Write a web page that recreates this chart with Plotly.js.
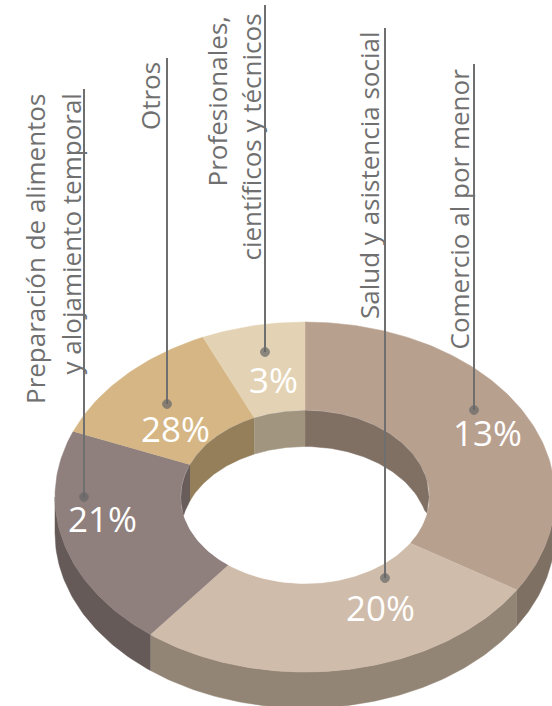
<!DOCTYPE html>
<html><head><meta charset="utf-8">
<script src="https://cdn.plot.ly/plotly-3.0.1.min.js"></script>
<style>html,body{margin:0;padding:0;background:#fff}#c{width:552px;height:706px}</style>
</head><body><div id="c"></div>
<script>
// Data
const categories = ['Comercio al por menor','Salud y asistencia social','Preparación de alimentos y alojamiento temporal','Otros','Profesionales, científicos y técnicos'];
const percentLabels = ['13%','20%','21%','28%','3%'];
const drawnShares = [33.9, 26.7, 20.5, 12.2, 6.7]; // share of the ring as drawn, %
const topColors = ['#b8a08f','#d0bcaa','#8f7f7d','#d5b684','#e3d3b4'];
const outerWallColors = ['#7f7064','#938575','#655a58','#655a58','#655a58'];
const innerWallColors = ['#806f63','#938575','#685d5a','#957f5b','#a1957f'];

// Geometry
const cx=305, cy=497, rx=250, ry=175, irx=124, iry=86.5, depth=36;
const rad=d=>d*Math.PI/180;
const px=(r,t)=>cx+r*Math.sin(rad(t));
const py=(r,t,dy=0)=>cy+dy-r*Math.cos(rad(t));
const steps=(a,b)=>{const n=Math.max(2,Math.ceil(Math.abs(b-a)));const o=[];for(let i=0;i<=n;i++)o.push(a+(b-a)*i/n);return o;};

let cum=0; const ranges=drawnShares.map(s=>{const a=cum*3.6;cum+=s;return [a,cum*3.6];});
const poly=(x,y,c)=>({type:'scatter',mode:'lines',x,y,fill:'toself',fillcolor:c,line:{color:c,width:0.5},hoverinfo:'skip',showlegend:false});
const traces=[];

// Outer wall (front half)
ranges.forEach(([a,b],i)=>{
  const lo=Math.max(a,90), hi=Math.min(b,270);
  if(hi<=lo) return;
  const ts=steps(lo,hi), rev=[...ts].reverse();
  traces.push(poly([...ts.map(t=>px(rx,t)),...rev.map(t=>px(rx,t))],
                   [...ts.map(t=>py(ry,t)),...rev.map(t=>py(ry,t,depth))],outerWallColors[i]));
});
// Top faces
ranges.forEach(([a,b],i)=>{
  const ts=steps(a,b), rev=[...ts].reverse();
  traces.push(poly([...ts.map(t=>px(rx,t)),...rev.map(t=>px(irx,t))],
                   [...ts.map(t=>py(ry,t)),...rev.map(t=>py(iry,t))],topColors[i]));
});
// Hole
const full=steps(0,360);
traces.push(poly(full.map(t=>px(irx,t)),full.map(t=>py(iry,t)),'#ffffff'));
// Inner wall (back half), clipped to the hole
ranges.forEach(([a,b],i)=>{
  let sets=[];
  if(a<90) sets.push([a,Math.min(b,90)]);
  if(b>270) sets.push([Math.max(a,270),b]);
  sets.forEach(([l,h])=>{
    const x1=px(irx,l), x2=px(irx,h), n=60, xs=[], up=[], lowY=[];
    for(let k=0;k<=n;k++){
      const x=x1+(x2-x1)*k/n, u=(x-cx)/irx, s=Math.sqrt(Math.max(0,1-u*u));
      xs.push(x); up.push(cy-iry*s); lowY.push(Math.min(cy+depth-iry*s,cy+iry*s));
    }
    traces.push(poly([...xs,...[...xs].reverse()],[...up,...[...lowY].reverse()],innerWallColors[i]));
  });
});
// Leader lines
const leaderX=[474,385,84,167,265];
const leaderTop=[64,28,89,58,5];
const leaderEnd=[410,578,497,404,352];
categories.forEach((c,i)=>{
  traces.push({type:'scatter',mode:'lines+markers',x:[leaderX[i],leaderX[i]],y:[leaderTop[i],leaderEnd[i]],
    line:{color:'#6f6f6f',width:2},marker:{color:'#666666',size:[0,9]},hoverinfo:'skip',showlegend:false});
});

// Text
const sideFont={family:'Open Sans',size:26,color:'#707070'};
const sideLines=[
  {t:'Comercio al por menor',x:458,y:67},
  {t:'Salud y asistencia social',x:369,y:29},
  {t:'Preparación de alimentos',x:35,y:92},
  {t:'y alojamiento temporal',x:70,y:92},
  {t:'Otros',x:150,y:60},
  {t:'Profesionales,',x:216,y:14},
  {t:'científicos y técnicos',x:250,y:12}
];
const pctX=[487,380,102,175,273], pctY=[432,607,518,428,379];
const annotations=[
  ...sideLines.map(l=>({x:l.x,y:l.y,xref:'x',yref:'y',text:l.t,showarrow:false,textangle:-90,xanchor:'center',yanchor:'top',font:sideFont})),
  ...percentLabels.map((p,i)=>({x:pctX[i],y:pctY[i],xref:'x',yref:'y',text:p,showarrow:false,xanchor:'center',yanchor:'middle',
    font:{family:'Open Sans',size:35,color:'#ffffff'}}))
];
Plotly.newPlot('c',traces,{
  width:552,height:706,margin:{l:0,r:0,t:0,b:0},paper_bgcolor:'#fff',plot_bgcolor:'#fff',showlegend:false,
  xaxis:{visible:false,range:[0,552],fixedrange:true},
  yaxis:{visible:false,range:[706,0],fixedrange:true},
  annotations
},{displayModeBar:false,staticPlot:true});
</script></body></html>
